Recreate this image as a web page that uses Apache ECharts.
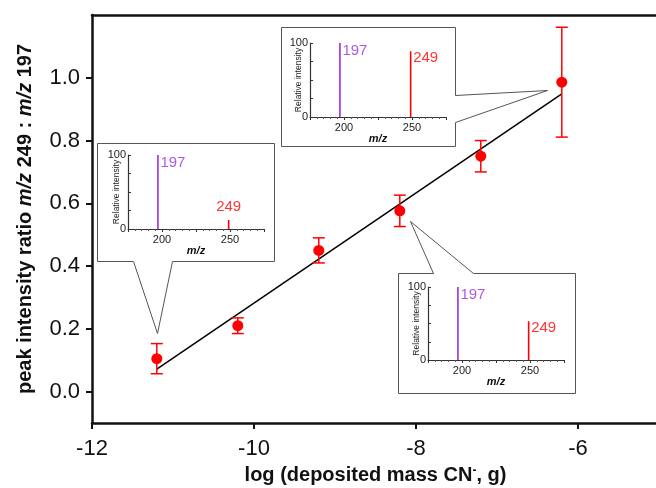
<!DOCTYPE html>
<html><head><meta charset="utf-8">
<script src="https://cdn.jsdelivr.net/npm/echarts@6/dist/echarts.min.js"></script>
<style>html,body{margin:0;padding:0;background:#fff}#c{width:656px;height:488px}</style>
</head><body><div id="c"></div>
<script>
// ---- data ----
const logMass = [-11.2, -10.2, -9.2, -8.2, -7.2, -6.2];
const ratio = [0.105, 0.21, 0.45, 0.576, 0.75, 0.986];
const ratioErr = [0.048, 0.025, 0.04, 0.05, 0.05, 0.175];
const fitX = [-11.2, -6.2];
const fitY = [0.072, 0.949];
const yTickValues = [0, 0.2, 0.4, 0.6, 0.8, 1.0];
const xTickValues = [-12, -10, -8, -6];
const peakMz = [197, 249];
const intensity197 = [100, 100, 100];   // insets: left, top, bottom-right
const intensity249 = [12, 89, 53];
const insetMzLabels = [200, 250];
const insetIntensityLabels = [0, 100];
const insetPoint = [0, 5, 3];           // which data point each inset belongs to

const FONT = '"Liberation Sans", Arial, sans-serif';
const RED = '#ff0000';
const PURPLE = '#9a2fdc';

const chart = echarts.init(document.getElementById('c'), null, {renderer: 'canvas'});

const insetGrids = [
  {left: 128, top: 155, width: 136, height: 74, outerBoundsMode: 'none'},
  {left: 310, top: 43, width: 136, height: 74, outerBoundsMode: 'none'},
  {left: 428, top: 287, width: 136, height: 73, outerBoundsMode: 'none'}
];

const grid = [{left: 92, top: 15, width: 567, height: 408, outerBoundsMode: 'none'}].concat(insetGrids);

const xAxis = [
  {gridIndex: 0, type: 'value', min: -12, max: -5, position: 'bottom',
   axisLine: {lineStyle: {color: '#111', width: 2.5}, onZero: false},
   axisTick: {show: true, length: 6, lineStyle: {width: 2}, customValues: xTickValues},
   axisLabel: {show: true, customValues: xTickValues, margin: 15, fontSize: 22, color: '#111', fontFamily: FONT},
   splitLine: {show: false},
   name: '{n|log (deposited mass CN}{s|-}{n|, g)}', nameLocation: 'middle', nameGap: 42,
   nameTextStyle: {rich: {
     n: {fontSize: 20, fontWeight: 'bold', fontFamily: FONT, color: '#111'},
     s: {fontSize: 12, fontWeight: 'bold', fontFamily: FONT, color: '#111', verticalAlign: 'top', lineHeight: 12}
   }}},
  {gridIndex: 0, type: 'value', min: -12, max: -5, position: 'top',
   axisLine: {lineStyle: {color: '#111', width: 2.5}, onZero: false},
   axisTick: {show: false}, axisLabel: {show: false}, splitLine: {show: false}}
];
const yAxis = [
  {gridIndex: 0, type: 'value', min: -0.1, max: 1.2,
   axisLine: {show: true, lineStyle: {color: '#111', width: 2.5}, onZero: false},
   axisTick: {show: true, length: 6, lineStyle: {width: 2}, customValues: yTickValues},
   axisLabel: {show: true, customValues: yTickValues, margin: 12, fontSize: 22, color: '#111', fontFamily: FONT,
               formatter: v => v.toFixed(1)},
   splitLine: {show: false},
   name: '{n|peak intensity ratio }{i|m/z}{n| 249 : }{i|m/z}{n| 197}', nameLocation: 'middle', nameGap: 57, nameRotate: 90,
   nameTextStyle: {rich: {
     n: {fontSize: 20, fontWeight: 'bold', fontFamily: FONT, color: '#111'},
     i: {fontSize: 20, fontWeight: 'bold', fontStyle: 'italic', fontFamily: FONT, color: '#111'}
   }}}
];

const series = [
  {type: 'scatter', xAxisIndex: 0, yAxisIndex: 0, symbolSize: 11, itemStyle: {color: RED, opacity: 1}, z: 5,
   data: logMass.map((x, i) => [x, ratio[i]])},
  {type: 'custom', xAxisIndex: 0, yAxisIndex: 0, z: 4,
   data: logMass.map((x, i) => [x, ratio[i], ratioErr[i]]),
   renderItem: function (params, api) {
     const x = api.value(0), y = api.value(1), e = api.value(2);
     const t = api.coord([x, y + e]), b = api.coord([x, y - e]);
     const hw = 6;
     const st = {stroke: RED, lineWidth: 1.5};
     return {type: 'group', children: [
       {type: 'line', shape: {x1: t[0], y1: t[1], x2: b[0], y2: b[1]}, style: st},
       {type: 'line', shape: {x1: t[0] - hw, y1: t[1], x2: t[0] + hw, y2: t[1]}, style: st},
       {type: 'line', shape: {x1: b[0] - hw, y1: b[1], x2: b[0] + hw, y2: b[1]}, style: st}
     ]};
   }},
  {type: 'line', xAxisIndex: 0, yAxisIndex: 0, symbol: 'none', z: 3,
   lineStyle: {color: '#000', width: 1.5},
   data: fitX.map((x, i) => [x, fitY[i]])}
];

insetGrids.forEach((g, k) => {
  const gi = k + 1;
  xAxis.push({gridIndex: gi, type: 'value', min: 175, max: 275, interval: 25,
    axisLine: {lineStyle: {color: '#333', width: 1.2}, onZero: false},
    axisTick: {show: true, length: 3, lineStyle: {color: '#333'}},
    minorTick: {show: true, splitNumber: 5, length: 2, lineStyle: {color: '#555'}},
    axisLabel: {customValues: insetMzLabels, margin: 5, fontSize: 11, color: '#222', fontFamily: FONT},
    splitLine: {show: false},
    name: 'm/z', nameLocation: 'middle', nameGap: 16, nameMoveOverlap: false,
    nameTextStyle: {fontSize: 11, fontWeight: 'bold', fontStyle: 'italic', color: '#111', fontFamily: FONT}});
  yAxis.push({gridIndex: gi, type: 'value', min: 0, max: 100, interval: 25,
    axisLine: {show: true, lineStyle: {color: '#333', width: 1.2}, onZero: false},
    axisTick: {show: true, inside: true, length: 3, lineStyle: {color: '#333'}},
    axisLabel: {customValues: insetIntensityLabels, margin: 2, fontSize: 11, color: '#222', fontFamily: FONT},
    splitLine: {show: false},
    name: 'Relative intensity', nameLocation: 'middle', nameGap: 7, nameRotate: 90, nameMoveOverlap: false,
    nameTextStyle: {fontSize: 8.5, color: '#222', fontFamily: FONT}});
  const ax = gi + 1, ay = gi;
  series.push({type: 'line', xAxisIndex: ax, yAxisIndex: ay, symbol: 'none', lineStyle: {color: PURPLE, width: 1.6},
    data: [[peakMz[0], 0], [peakMz[0], intensity197[k]]]});
  series.push({type: 'line', xAxisIndex: ax, yAxisIndex: ay, symbol: 'none', lineStyle: {color: RED, width: 1.6},
    data: [[peakMz[1], 0], [peakMz[1], intensity249[k]]]});
  series.push({type: 'scatter', xAxisIndex: ax, yAxisIndex: ay, symbolSize: 1, itemStyle: {color: 'rgba(0,0,0,0)'}, z: 6,
    data: [
      {value: [peakMz[0], intensity197[k]], label: {show: true, formatter: String(peakMz[0]), position: 'right', distance: 2, offset: [0, 8], color: PURPLE, fontSize: 15, fontFamily: FONT}},
      {value: [peakMz[1], intensity249[k]], label: k === 0
        ? {show: true, formatter: String(peakMz[1]), position: 'top', distance: 5, color: RED, fontSize: 15, fontFamily: FONT}
        : {show: true, formatter: String(peakMz[1]), position: 'right', distance: 2, offset: [0, 7], color: RED, fontSize: 15, fontFamily: FONT}}
    ]});
});

chart.setOption({
  animation: false,
  backgroundColor: '#fff',
  grid: grid, xAxis: xAxis, yAxis: yAxis, series: series
});

// callout boxes pointing at data points
const px = i => chart.convertToPixel({xAxisIndex: 0, yAxisIndex: 0}, [logMass[i], ratio[i]]);
const tipOffsets = [[0, -26], [-15, 8], [10, 10]];
const tips = insetPoint.map((p, k) => { const q = px(p); return [q[0] + tipOffsets[k][0], q[1] + tipOffsets[k][1]]; });
const boxes = [
  [[97, 143], [274, 143], [274, 261], [172, 261], tips[0], [133, 261], [97, 261]],
  [[281, 27], [455, 27], [455, 95], tips[1], [455, 122], [455, 146], [281, 146]],
  [[398, 273], [433, 273], tips[2], [473, 273], [575, 273], [575, 393], [398, 393]]
];
chart.setOption({
  graphic: boxes.map(pts => ({type: 'polygon', shape: {points: pts.map(p => [Math.round(p[0]) + 0.5, Math.round(p[1]) + 0.5])},
    style: {fill: 'none', stroke: '#555', lineWidth: 1}, silent: true}))
});
</script></body></html>
